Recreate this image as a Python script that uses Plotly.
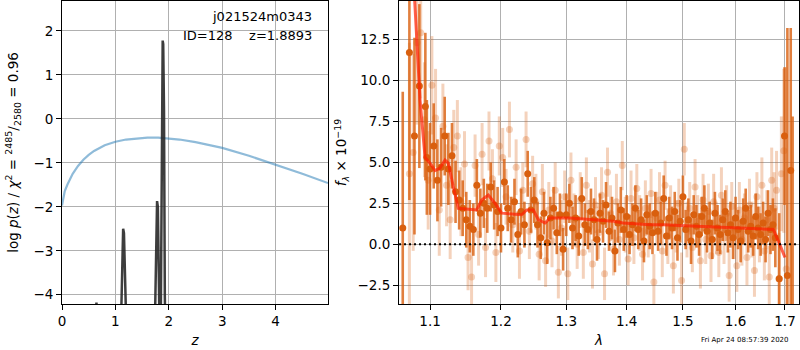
import plotly.graph_objects as go

# ---------------- left panel: p(z) ----------------
z_prior = [0.0, 0.02, 0.05, 0.1, 0.15, 0.2, 0.3, 0.4, 0.5, 0.6, 0.8, 1.0, 1.2, 1.4,
           1.6, 1.8, 2.0, 2.2, 2.5, 3.0, 3.5, 4.0, 4.5, 4.98]
logp_prior = [-1.97, -1.8, -1.65, -1.5, -1.37, -1.25, -1.07, -0.93, -0.82, -0.73, -0.6,
              -0.52, -0.47, -0.44, -0.425, -0.425, -0.44, -0.47, -0.53, -0.66, -0.84,
              -1.04, -1.25, -1.46]

z_pdf = [0.55, 0.62, 0.645, 0.67, 0.72, 1.08, 1.12, 1.135, 1.145, 1.16, 1.175, 1.19, 1.23,
         1.72, 1.755, 1.77, 1.78, 1.795, 1.81, 1.84, 1.85, 1.865, 1.875, 1.885, 1.895,
         1.91, 1.925, 1.95]
logp_pdf = [-6.0, -4.6, -4.18, -4.6, -6.0, -6.0, -3.6, -2.55, -2.5, -2.6, -3.6, -4.8, -6.0,
            -6.0, -3.2, -2.0, -1.87, -2.0, -3.3, -6.0, -4.5, -0.6, 1.5, 1.78, 1.7, 0.2,
            -4.0, -6.0]

# ---------------- right panel: spectrum ----------------
lam_dark = [1.0638, 1.0725, 1.0792, 1.0857, 1.0937, 1.0957,
            1.100, 1.105, 1.110, 1.115, 1.120, 1.125, 1.130, 1.135, 1.140, 1.145,
            1.150, 1.155, 1.160, 1.165, 1.170, 1.175, 1.180, 1.185, 1.190, 1.195,
            1.200, 1.205, 1.210, 1.215, 1.220, 1.225, 1.230, 1.235, 1.240, 1.245,
            1.250, 1.255, 1.260, 1.265, 1.270, 1.275, 1.280, 1.285, 1.290, 1.295,
            1.300, 1.305, 1.310, 1.315, 1.320, 1.325, 1.330, 1.335, 1.340, 1.345,
            1.350, 1.355, 1.360, 1.365, 1.370, 1.375, 1.380, 1.385, 1.390, 1.395,
            1.400, 1.405, 1.410, 1.415, 1.420, 1.425, 1.430, 1.435, 1.440, 1.445,
            1.450, 1.455, 1.460, 1.465, 1.470, 1.475, 1.480, 1.485, 1.490, 1.495,
            1.500, 1.505, 1.510, 1.515, 1.520, 1.525, 1.530, 1.535, 1.540, 1.545,
            1.550, 1.555, 1.560, 1.565, 1.570, 1.575, 1.580, 1.585, 1.590, 1.595,
            1.600, 1.605, 1.610, 1.615, 1.620, 1.625, 1.630, 1.635, 1.640, 1.645,
            1.650, 1.655, 1.660, 1.665, 1.670, 1.675, 1.680, 1.688,
            1.699, 1.705, 1.712, 1.716]
flux_dark = [1.0, 11.7, 6.6, 9.65, 8.4, 5.3,
             4.6, 6.0, 3.9, 4.7, 6.6, 4.6, 5.4, 3.2, 2.7, 2.2,
             1.5, 1.1, 0.9, 3.6, 1.9, 2.5, 2.2, 3.5, 2.4, 2.0,
             1.0, 3.8, 2.2, 1.5, 2.6, 0.6, 2.0, 1.2, 4.3, 2.1,
             2.7, 1.2, 0.4, 1.9, 0.1, 1.6, 2.2, 0.7, 1.8, -0.3,
             1.8, 2.5, 1.0, 1.6, 0.5, 2.8, 1.2, 0.9, 2.0, 1.5,
             0.3, 1.9, 1.4, 2.4, 0.8, 1.6, -0.4, 1.3, 2.1, 0.9,
             1.7, 0.6, 1.2, 2.2, 0.9, 1.5, 0.2, 1.8, 1.1, 0.7,
             1.9, 0.8, 1.3, 2.8, 0.5, 1.6, 1.0, 2.0, 0.4, 1.4,
             2.9, 0.9, 1.5, 0.2, 1.8, 1.1, 0.6, 1.7, 2.2, 0.8,
             1.3, 0.3, 1.9, 1.0, 0.6, 1.5, 2.0, 0.7, 1.2, 0.4,
             1.6, 0.9, 0.2, 1.4, 2.2, 0.8, 1.1, 0.5, 1.7, 1.0,
             0.6, 1.3, 0.3, 1.9, 0.9, 1.2, 0.4, -2.1,
             6.6, -1.9, 4.5, -4.5]
err_dark = [8.3, 9.0, 6.0, 5.0, 4.5, 3.5,
            2.8, 2.6, 2.5, 2.4, 2.4, 2.2, 2.0, 1.9, 1.8, 1.7,
            1.7, 1.6, 1.6, 1.6, 1.5, 1.5, 1.5, 1.5, 1.5, 1.5,
            1.5, 1.4, 1.4, 1.4, 1.4, 1.4, 1.4, 1.4, 1.4, 1.4,
            1.4, 1.4, 1.3, 1.3, 1.3, 1.3, 1.3, 1.3, 1.3, 1.3,
            1.3, 1.2, 1.3, 1.4, 1.2, 1.3, 1.3, 1.2, 1.4, 1.3,
            1.3, 1.2, 1.3, 1.4, 1.2, 1.3, 1.3, 1.2, 1.4, 1.3,
            1.3, 1.2, 1.3, 1.4, 1.2, 1.3, 1.3, 1.2, 1.4, 1.3,
            1.3, 1.2, 1.3, 1.4, 1.2, 1.3, 1.3, 1.2, 1.4, 1.3,
            1.3, 1.2, 1.3, 1.4, 1.2, 1.3, 1.3, 1.2, 1.4, 1.3,
            1.3, 1.2, 1.3, 1.4, 1.2, 1.3, 1.3, 1.2, 1.4, 1.3,
            1.3, 1.2, 1.3, 1.4, 1.2, 1.3, 1.3, 1.2, 1.4, 1.3,
            1.3, 1.3, 1.4, 1.4, 1.5, 1.6, 1.8, 4.0,
            4.2, 15.1, 8.7, 12.3]

lam_light = [1.0725, 1.0775, 1.0825, 1.0875, 1.0925, 1.0975,
             1.1025, 1.1075, 1.1125, 1.1175, 1.1225, 1.1275, 1.1325, 1.1375, 1.1425, 1.1475,
             1.1525, 1.1575, 1.1625, 1.1675, 1.1725, 1.1775, 1.1825, 1.1875, 1.1925, 1.1975,
             1.2025, 1.2075, 1.2125, 1.2175, 1.2225, 1.2275, 1.2325, 1.2375, 1.2425, 1.2475,
             1.2525, 1.2575, 1.2625, 1.2675, 1.2725, 1.2775, 1.2825, 1.2875, 1.2925, 1.2975,
             1.3025, 1.3075, 1.3125, 1.3175, 1.3225, 1.3275, 1.3325, 1.3375, 1.3425, 1.3475,
             1.3525, 1.3575, 1.3625, 1.3675, 1.3725, 1.3775, 1.3825, 1.3875, 1.3925, 1.3975,
             1.4025, 1.4075, 1.4125, 1.4175, 1.4225, 1.4275, 1.4325, 1.4375, 1.4425, 1.4475,
             1.4525, 1.4575, 1.4625, 1.4675, 1.4725, 1.4775, 1.4825, 1.4875, 1.4925, 1.4975,
             1.5025, 1.5075, 1.5125, 1.5175, 1.5225, 1.5275, 1.5325, 1.5375, 1.5425, 1.5475,
             1.5525, 1.5575, 1.5625, 1.5675, 1.5725, 1.5775, 1.5825, 1.5875, 1.5925, 1.5975,
             1.6025, 1.6075, 1.6125, 1.6175, 1.6225, 1.6275, 1.6325, 1.6375, 1.6425, 1.6475,
             1.6525, 1.6575, 1.6625, 1.6675, 1.6725, 1.6775, 1.6825, 1.6875, 1.6925, 1.6975,
             1.7025]
flux_light = [4.3, 5.6, 12.3, 12.9, 7.6, 3.9,
              9.7, 7.7, 2.1, 7.2, 3.6, 1.5, 5.9, 6.6, 2.6, 4.9,
              -0.8, -2.0, 4.8, 0.6, 5.5, -0.2, 6.3, 4.0, -0.5, 6.0,
              5.3, 2.9, 7.0, 1.2, 4.7, -0.4, 3.3, 6.4, 0.8, 3.7,
              2.6, -0.6, 3.2, -1.0, 2.1, 0.2, 3.3, -1.7, 1.0, 2.9,
              -1.8, 3.9, 1.5, 0.0, 2.7, -0.5, 3.6, 1.1, -1.2, 2.4,
              0.7, 3.0, -1.8, 4.4, 1.9, -0.3, 2.6, 0.3, 4.8, 1.2,
              -0.9, 2.8, 0.4, 3.4, 1.3, -0.6, 2.2, 0.8, 3.1, -2.3,
              1.6, 2.7, -0.4, 3.6, 0.5, 2.0, -1.3, 1.1, 2.5, -2.2,
              5.8, 0.9, 2.2, -0.2, 3.5, 1.4, -1.0, 2.7, 0.3, 2.0,
              -0.7, 2.6, 1.0, -0.5, 3.0, 0.4, 1.9, -1.9, 2.3, 0.8,
              -1.3, 2.1, 0.3, 1.6, -0.8, 2.4, 0.9, -1.6, 2.9, 0.6,
              3.6, -0.4, 1.5, -2.0, 3.9, 2.2, 3.3, -2.1, 4.3, 5.7,
              -1.5]
err_light = [8.0, 6.0, 5.0, 4.0, 3.5, 3.0,
             3.0, 3.0, 2.8, 2.6, 2.5, 2.4, 2.3, 2.2, 2.1, 2.0,
             2.0, 2.0, 1.9, 1.9, 1.9, 1.8, 1.8, 1.8, 1.8, 1.8,
             1.8, 1.7, 1.7, 1.7, 1.7, 1.7, 1.7, 1.7, 1.7, 1.7,
             1.7, 1.6, 1.7, 1.6, 1.7, 1.6, 1.7, 1.6, 1.7, 1.6,
             1.6, 1.7, 1.6, 1.5, 1.7, 1.6, 1.7, 1.6, 1.5, 1.7,
             1.6, 1.7, 1.6, 1.5, 1.7, 1.6, 1.7, 1.6, 1.5, 1.7,
             1.6, 1.7, 1.6, 1.5, 1.7, 1.6, 1.7, 1.6, 1.5, 1.7,
             1.6, 1.7, 1.6, 1.5, 1.7, 1.6, 1.7, 1.6, 1.5, 1.7,
             1.6, 1.7, 1.6, 1.5, 1.7, 1.6, 1.7, 1.6, 1.5, 1.7,
             1.6, 1.7, 1.6, 1.5, 1.7, 1.6, 1.7, 1.6, 1.5, 1.7,
             1.6, 1.7, 1.6, 1.5, 1.7, 1.6, 1.7, 1.6, 1.5, 1.7,
             1.7, 1.8, 1.8, 1.9, 2.0, 2.2, 2.4, 2.8, 3.5, 5.0,
             12.3]

lam_model = [1.077, 1.0866, 1.0933, 1.100, 1.1068, 1.1136, 1.1204, 1.125, 1.1319, 1.1388,
             1.1648, 1.172, 1.1815, 1.1913, 1.2011, 1.2309, 1.2385, 1.2485, 1.2562, 1.2666,
             1.2744, 1.306, 1.3772, 1.3942, 1.4406, 1.4642, 1.5256, 1.5891, 1.6759, 1.6897,
             1.700]
flux_model = [17.0, 8.8, 5.3, 4.95, 4.5, 4.65, 5.14, 4.94, 3.5, 2.2,
              2.1, 2.7, 3.0, 2.5, 1.9, 1.8, 2.1, 2.1, 1.5, 1.3,
              1.6, 1.6, 1.4, 1.3, 1.2, 1.2, 1.1, 1.0, 0.91, -0.05,
              -0.8]

x_ticks_left = [0, 1, 2, 3, 4]
y_ticks_left = [-4, -3, -2, -1, 0, 1, 2]
x_ticks_right = [1.1, 1.2, 1.3, 1.4, 1.5, 1.6, 1.7]
y_ticks_right = [-2.5, 0.0, 2.5, 5.0, 7.5, 10.0, 12.5]

ORANGE = "rgb(217,95,14)"
LIGHT = "rgba(217,95,14,0.28)"
FONT = "DejaVu Sans"

fig = go.Figure()

# left panel
fig.add_trace(go.Scatter(x=z_prior, y=logp_prior, mode="lines",
                         line=dict(color="rgba(31,119,180,0.5)", width=2.2),
                         xaxis="x", yaxis="y", showlegend=False))
fig.add_trace(go.Scatter(x=z_pdf, y=logp_pdf, mode="lines",
                         line=dict(color="rgba(40,40,40,0.9)", width=2.5),
                         xaxis="x", yaxis="y", showlegend=False))

# right panel
fig.add_trace(go.Scatter(x=lam_light, y=flux_light, mode="markers",
                         marker=dict(color=LIGHT, size=7),
                         error_y=dict(type="data", array=err_light, color=LIGHT,
                                      thickness=3, width=0),
                         xaxis="x2", yaxis="y2", showlegend=False))
fig.add_trace(go.Scatter(x=lam_dark, y=flux_dark, mode="markers",
                         marker=dict(color=ORANGE, size=7),
                         error_y=dict(type="data", array=err_dark,
                                      color="rgba(217,95,14,0.8)",
                                      thickness=2.6, width=0),
                         xaxis="x2", yaxis="y2", showlegend=False))
fig.add_trace(go.Scatter(x=lam_model, y=flux_model, mode="lines",
                         line=dict(color="rgba(255,30,0,0.7)", width=3),
                         xaxis="x2", yaxis="y2", showlegend=False))

fig.add_shape(type="line", xref="x2 domain", yref="y2", x0=0, x1=1, y0=0, y1=0,
              line=dict(color="black", width=2, dash="2px,3px"))

axis_common = dict(showline=True, mirror=True, linecolor="black", linewidth=1,
                   ticks="outside", ticklen=5, tickcolor="black", automargin=False,
                   showgrid=True, gridcolor="#b0b0b0", gridwidth=1, zeroline=False,
                   tickfont=dict(family=FONT, size=13.5, color="black"))

fig.update_layout(
    width=800, height=350,
    margin=dict(l=62, r=1, t=1, b=46),
    plot_bgcolor="white", paper_bgcolor="white",
    font=dict(family=FONT, color="black"),
    xaxis=dict(domain=[0, 0.3609], range=[0, 4.98], tickvals=x_ticks_left,
               title=dict(text="<i>z</i>", font=dict(size=13.5), standoff=7),
               **axis_common),
    yaxis=dict(domain=[0, 1], range=[-4.21, 2.68], tickvals=y_ticks_left,
               ticktext=["\u2212" + str(abs(v)) if v < 0 else str(v) for v in y_ticks_left],
               title=dict(text="log <i>p</i>(<i>z</i>) / <i>\u03c7</i><sup>2</sup> = "
                               "<sup>2485</sup>/<sub>2580</sub> = 0.96",
                          font=dict(size=13.5), standoff=11),
               **axis_common),
    xaxis2=dict(domain=[0.4573, 1.0], type="log",
                range=[0.02488, 0.23791], tickvals=x_ticks_right,
                ticktext=[f"{v:.1f}" for v in x_ticks_right],
                title=dict(text="<i>\u03bb</i>", font=dict(size=13.5), standoff=7),
                anchor="y2", **axis_common),
    yaxis2=dict(domain=[0, 1], range=[-3.64, 14.84], tickvals=y_ticks_right,
                ticktext=[("\u2212" if v < 0 else "") + f"{abs(v):.1f}" for v in y_ticks_right],
                title=dict(text="<i>f</i><sub><i>\u03bb</i></sub> \u00d7 10<sup>\u221219</sup>",
                           font=dict(size=13.5), standoff=7),
                anchor="x2", **axis_common),
)

fig.add_annotation(xref="x", yref="paper", x=4.71, y=(303 - 16) / 303, yanchor="middle",
                   xanchor="right", text="j021524m0343", showarrow=False,
                   font=dict(family=FONT, size=13, color="black"))
fig.add_annotation(xref="x", yref="paper", x=4.71, y=(303 - 35) / 303, yanchor="middle",
                   xanchor="right", text="ID=128    z=1.8893", showarrow=False,
                   font=dict(family=FONT, size=13, color="black"))
fig.add_annotation(xref="paper", yref="paper", x=0.9885, y=-0.12, xanchor="right",
                   yanchor="middle", text="Fri Apr 24 08:57:39 2020", showarrow=False,
                   font=dict(family=FONT, size=7, color="black"))

fig.write_html("out.html", config={"displayModeBar": False},
               post_script="document.body.style.margin='0';document.body.style.overflow='hidden';")
